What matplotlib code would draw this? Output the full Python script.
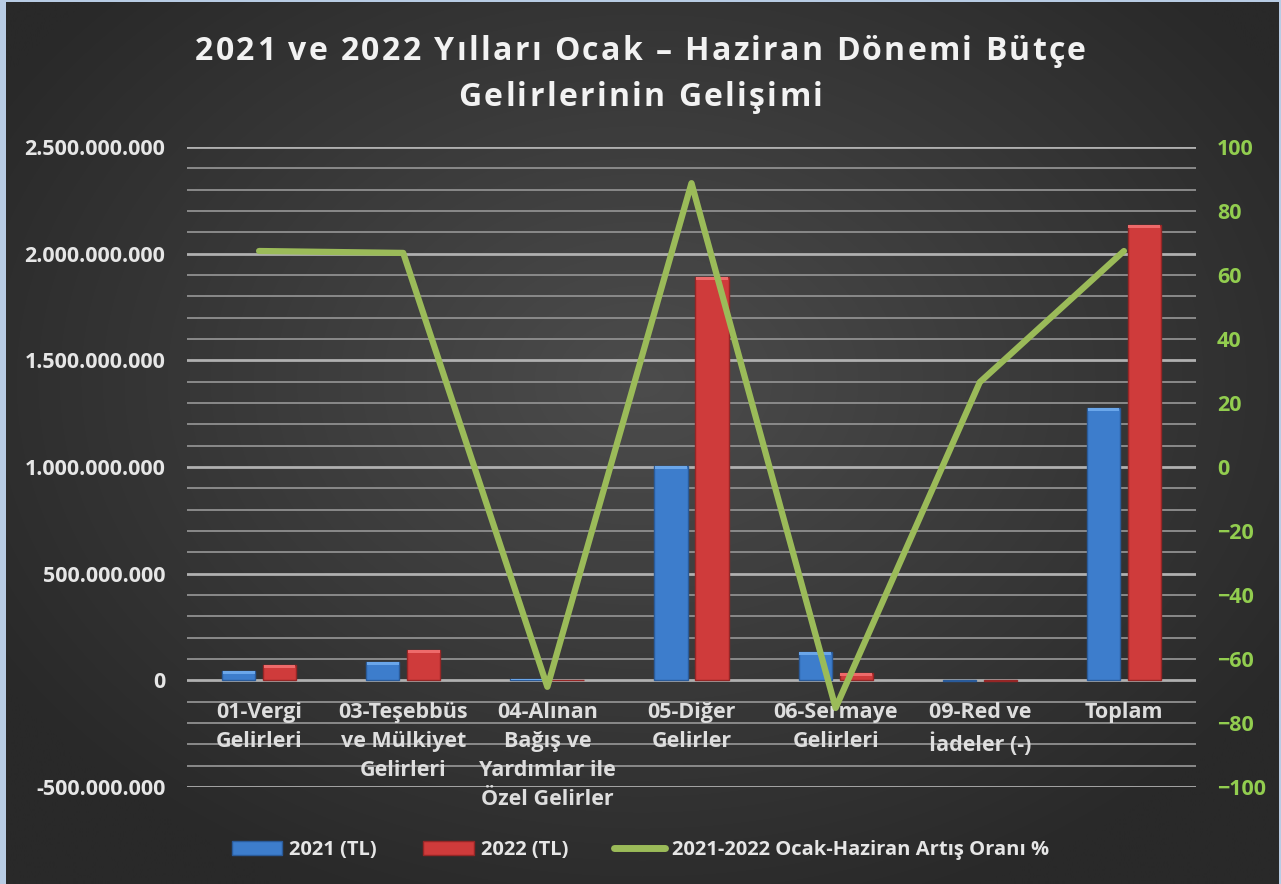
import numpy as np
import matplotlib
matplotlib.use("Agg")
import matplotlib.pyplot as plt
from matplotlib.patches import Rectangle
from matplotlib.lines import Line2D
from matplotlib.ticker import FuncFormatter, MultipleLocator
from matplotlib.font_manager import FontProperties

categories = ["01-Vergi\nGelirleri", "03-Teşebbüs\nve Mülkiyet\nGelirleri",
              "04-Alınan\nBağış ve\nYardımlar ile\nÖzel Gelirler",
              "05-Diğer\nGelirler", "06-Sermaye\nGelirleri", "09-Red ve\nİadeler (-)", "Toplam"]
values_2021 = [42e6, 84e6, 8e6, 1004e6, 133e6, -3e6, 1276e6]
values_2022 = [70e6, 141e6, 2.6e6, 1890e6, 33e6, -4e6, 2134e6]
growth_pct = [67.5, 66.9, -68.7, 88.7, -75.3, 26.5, 67.5]
legend_labels = ["2021 (TL)", "2022 (TL)", "2021-2022 Ocak-Haziran Artış Oranı %"]
title_lines = ["2021 ve 2022 Yılları Ocak – Haziran Dönemi Bütçe", "Gelirlerinin Gelişimi"]

FONT = ["Open Sans", "DejaVu Sans"]
plt.rcParams["font.family"] = FONT

W, H = 1281, 884
fig = plt.figure(figsize=(W / 100, H / 100), dpi=100)
fig.patch.set_facecolor("#b8cce4")

# background radial gradient
bg = fig.add_axes([6 / W, 0, (W - 8) / W, (H - 2) / H])
yy, xx = np.mgrid[0:H, 0:W]
cx, cy = 640, 380
r = np.sqrt(((xx - cx) / 760.0) ** 2 + ((yy - cy) / 560.0) ** 2)
r = np.clip(r, 0, 1)
c0 = np.array([0x4c, 0x4c, 0x4c]) / 255
c1 = np.array([0x29, 0x29, 0x29]) / 255
img = c0[None, None, :] * (1 - r[..., None]) + c1[None, None, :] * r[..., None]
bg.imshow(img, aspect="auto", extent=[0, 1, 0, 1])
bg.set_axis_off()

ax = fig.add_axes([187 / W, 1 - 787 / H, (1196 - 187) / W, (787 - 147) / H])
ax.set_facecolor("none")
ax.patch.set_alpha(0)
ax.set_zorder(2)

LS = 15.5
x = np.arange(len(categories))
bw = 0.23
off = 0.142
blue = "#3d7dcc"
red = "#cf3b3b"
ax.bar(x - off, values_2021, bw, color=blue, edgecolor="#2a5b9a", linewidth=1.0, zorder=3)
ax.bar(x + off, values_2022, bw, color=red, edgecolor="#962626", linewidth=1.0, zorder=3)
# top bevel highlight
for xi, v in zip(x - off, values_2021):
    if v > 0:
        h = min(v, 14e6)
        ax.bar(xi, h, bw * 0.96, bottom=v - h, color="#6aa6ea", linewidth=0, zorder=4)
for xi, v in zip(x + off, values_2022):
    if v > 0:
        h = min(v, 14e6)
        ax.bar(xi, h, bw * 0.96, bottom=v - h, color="#ee6a6a", linewidth=0, zorder=4)

ax.set_xlim(-0.5, len(categories) - 0.5)
ax.set_ylim(-5e8, 2.5e9)
ax.yaxis.set_major_locator(MultipleLocator(5e8))
ax.yaxis.set_minor_locator(MultipleLocator(1e8))
ax.grid(which="minor", axis="y", color="#8a8a8a", linewidth=1.4, zorder=0)
ax.grid(which="major", axis="y", color="#b0b0b0", linewidth=2.0, zorder=0)
ax.set_axisbelow(True)
ax.yaxis.set_major_formatter(FuncFormatter(lambda v, p: f"{int(round(v)):,}".replace(",", ".")))
ax.tick_params(axis="y", which="both", length=0, pad=15.5, labelsize=LS, labelcolor="#e6e6e6")
for t in ax.get_yticklabels():
    t.set_fontweight("bold")
ax.set_xticks([])
for s in ax.spines.values():
    s.set_visible(False)

for xi, lab in zip(x, categories):
    ax.text(xi, -1.0e8, lab, ha="center", va="top", fontsize=LS, fontweight="bold",
            color="#dedede", linespacing=1.5, zorder=5)

ax2 = ax.twinx()
ax2.set_zorder(3)
ax2.set_ylim(-100, 100)
ax2.yaxis.set_major_locator(MultipleLocator(20))
ax2.plot(x, growth_pct, color="#9bbb59", linewidth=4.5, solid_capstyle="round",
         solid_joinstyle="round", zorder=6)
ax2.tick_params(axis="y", length=0, pad=15, labelsize=LS, labelcolor="#92cd4f")
for t in ax2.get_yticklabels():
    t.set_fontweight("bold")
for s in ax2.spines.values():
    s.set_visible(False)

# letter-spaced title
renderer = fig.canvas.get_renderer()
tprop = FontProperties(family=FONT, weight="bold", size=23)


def tw(s):
    w, h, d = renderer.get_text_width_height_descent(s, tprop, ismath=False)
    return w


def spaced_line(text, ycenter_px, extra):
    base = tw("II")
    adv = [tw("I" + c + "I") - base for c in text]
    total = sum(adv) + extra * (len(text) - 1)
    xs = W / 2 - total / 2
    for c, a in zip(text, adv):
        fig.text(xs / W, 1 - ycenter_px / H, c, ha="left", va="center_baseline",
                 fontproperties=tprop, color="#f2f2f2")
        xs += a + extra


spaced_line(title_lines[0], 48, 2.35)
spaced_line(title_lines[1], 93, 2.35)

handles = [Rectangle((0, 0), 1, 1, facecolor=blue, edgecolor="#2a5b9a"),
           Rectangle((0, 0), 1, 1, facecolor=red, edgecolor="#962626"),
           Line2D([0], [0], color="#9bbb59", linewidth=5, solid_capstyle="round")]
leg = fig.legend(handles, legend_labels, loc="center", bbox_to_anchor=(0.5, 1 - 850 / H),
                 ncol=3, frameon=False, fontsize=14.5, handlelength=2.5, handleheight=0.7,
                 columnspacing=2.3, handletextpad=0.35)
for t in leg.get_texts():
    t.set_color("#e6e6e6")
    t.set_fontweight("bold")

fig.savefig("out.png", dpi=100, facecolor=fig.get_facecolor())
